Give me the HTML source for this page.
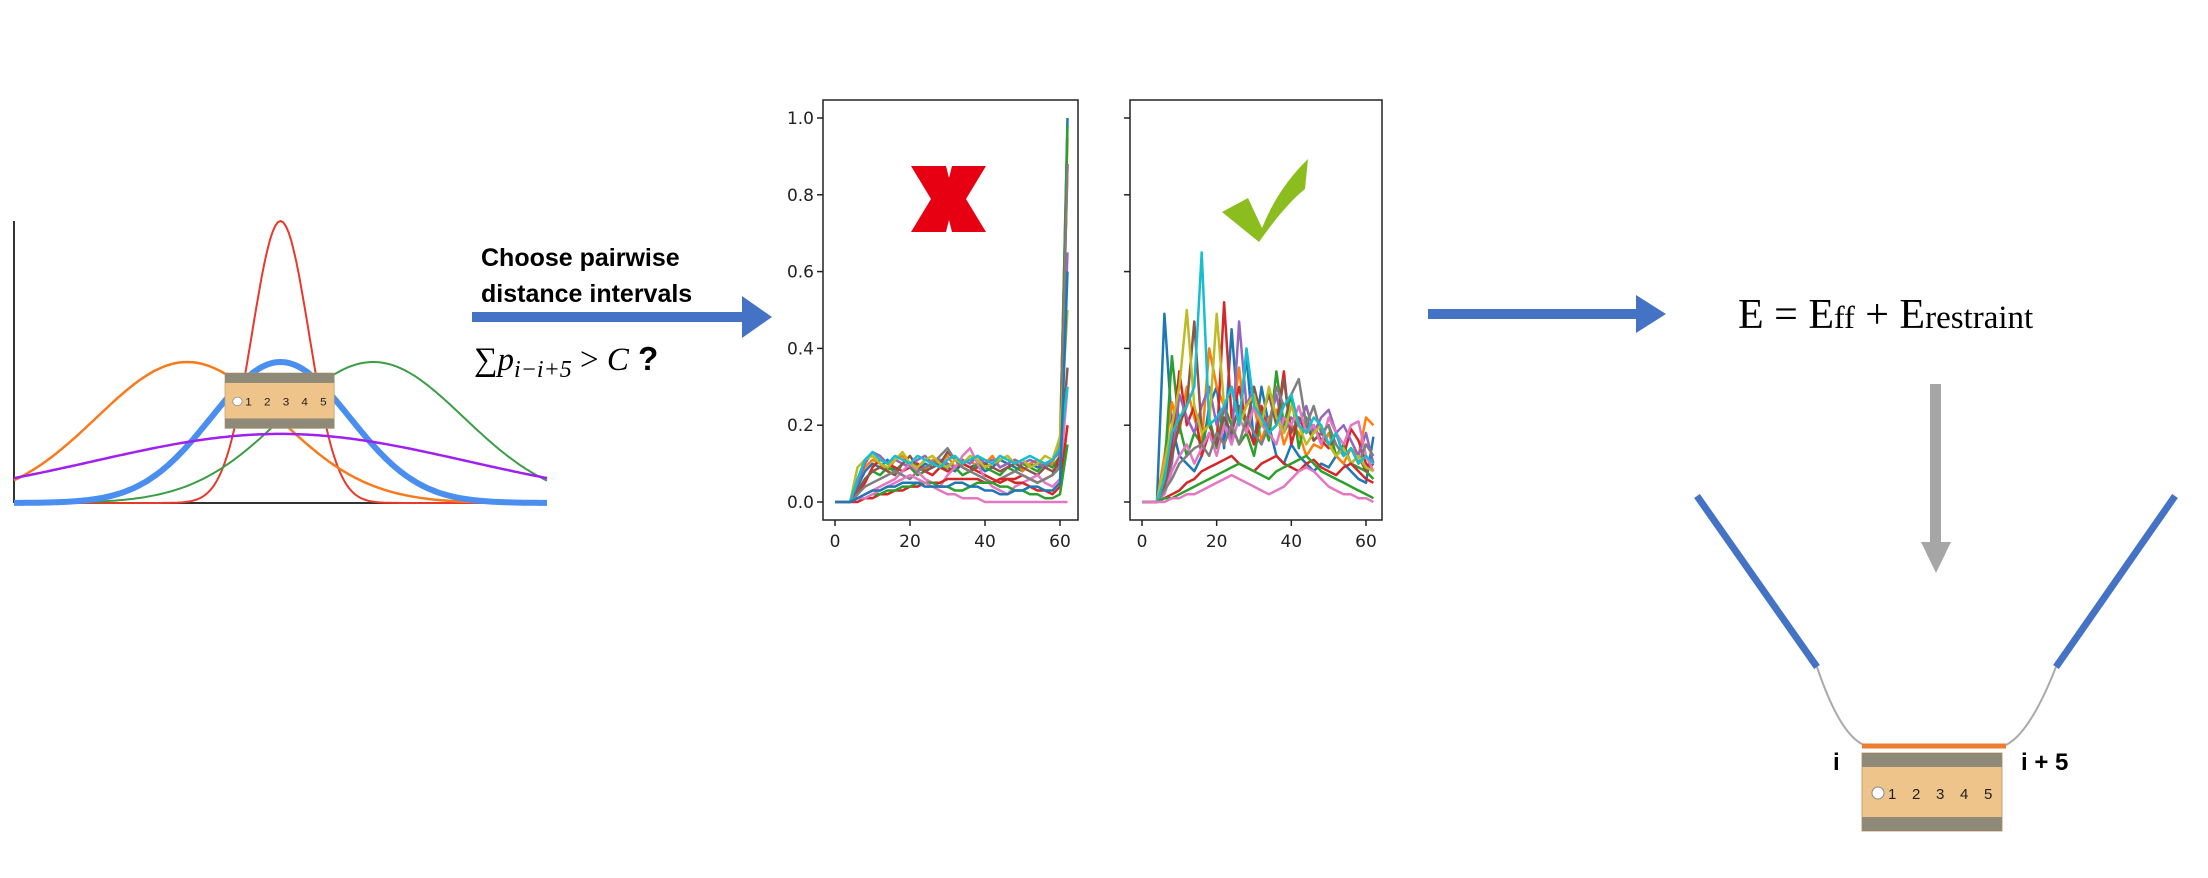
<!DOCTYPE html>
<html><head><meta charset="utf-8">
<style>
html,body{margin:0;padding:0;background:#fff;}
svg{display:block;}
</style></head>
<body>
<svg id="fig" width="2208" height="878" viewBox="0 0 2208 878" xmlns="http://www.w3.org/2000/svg" style="font-family:'Liberation Sans','DejaVu Sans',sans-serif">
  <defs>
    <g id="ruler">
      <rect x="0" y="0" width="140" height="78" fill="#eec48a" stroke="#c9a06a" stroke-width="1"/>
      <rect x="0" y="0" width="140" height="14" fill="#8f8a78"/>
      <rect x="0" y="64" width="140" height="14" fill="#8f8a78"/>
      <g fill="#222" font-size="15" style="font-family:'Liberation Sans',sans-serif">
        <text x="26" y="46">1</text><text x="50" y="46">2</text><text x="74" y="46">3</text><text x="98" y="46">4</text><text x="122" y="46">5</text>
      </g>
      <circle cx="16" cy="40" r="6" fill="#fff" stroke="#888"/>
    </g>
  </defs>

  <g>
    <line x1="14" y1="221" x2="14" y2="503" stroke="#333" stroke-width="2"/>
    <line x1="14" y1="503" x2="547" y2="503" stroke="#333" stroke-width="2"/>
    <g id="gaussCurves"></g>
    <use href="#ruler" transform="translate(225,373) scale(0.78,0.71)"/>
  </g>

  <g>
    <rect x="472" y="312" width="272" height="10" fill="#4472c4"/>
    <polygon points="742,296 772,317 742,338" fill="#4472c4"/>
  </g>
  <text x="481" y="266" font-size="25" font-weight="bold" fill="#000">Choose pairwise</text>
  <text x="481" y="302" font-size="25" font-weight="bold" fill="#000">distance intervals</text>
  <text x="474" y="370" font-size="33" fill="#000" style="font-family:'Liberation Serif',serif"><tspan>∑</tspan><tspan font-style="italic">p</tspan><tspan font-style="italic" font-size="24" dy="7">i−i+5</tspan><tspan dy="-7"> &gt; </tspan><tspan font-style="italic">C</tspan><tspan style="font-family:'Liberation Sans',sans-serif" font-weight="bold"> ?</tspan></text>

  <g id="plotLeft"></g>
  <g id="plotRight"></g>

  <polygon points="911,166 946,166 949,178 952,166 986,166 966,199 986,232 952,232 949,220 946,232 911,232 931,199" fill="#e60012"/>
  <path d="M1222,212 L1248,198 L1262,228 Q1278,188 1308,159 L1305,189 Q1285,205 1259,242 Z" fill="#8bbd1e"/>

  <g>
    <rect x="1428" y="309" width="210" height="10" fill="#4472c4"/>
    <polygon points="1636,295 1666,314 1636,333" fill="#4472c4"/>
  </g>

  <text x="1738" y="328" font-size="42" style="font-family:'Liberation Serif',serif" fill="#000">E = E<tspan font-size="32">ff</tspan> + E<tspan font-size="33">restraint</tspan></text>

  <g>
    <rect x="1930" y="384" width="11" height="160" fill="#a6a6a6"/>
    <polygon points="1921,542 1951,542 1936,573" fill="#a6a6a6"/>
  </g>

  <g>
    <line x1="1697" y1="496" x2="1817" y2="667" stroke="#4472c4" stroke-width="7"/>
    <line x1="2175" y1="496" x2="2056" y2="667" stroke="#4472c4" stroke-width="7"/>
    <path d="M1817,667 Q1840,735 1864,745" fill="none" stroke="#aaa" stroke-width="2"/>
    <path d="M2056,667 Q2030,733 2006,745" fill="none" stroke="#aaa" stroke-width="2"/>
    <line x1="1862" y1="746" x2="2006" y2="746" stroke="#ed7d31" stroke-width="5"/>
    <text x="1833" y="770" font-size="24" font-weight="bold">i</text>
    <text x="2021" y="770" font-size="24" font-weight="bold">i + 5</text>
    <use href="#ruler" transform="translate(1862,753) scale(1.0,1.0)"/>
  </g>
</svg>

<script>
const gaussNames   = ["red", "orange", "green", "blue", "purple"];
const gaussCenters = [50, 32.5, 67.4, 50, 50];
const gaussSigmas  = [5.3, 17, 17, 13, 35];
const gaussAmps    = [1.0, 0.5, 0.5, 0.5, 0.245];
const gaussColors  = ["#e8392a", "#f97a1c", "#3a9e46", "#4a8ef0", "#a020f0"];
const gaussWidths  = [2, 2.5, 2, 6, 2.5];

const xValues = [0,2,4,6,8,10,12,14,16,18,20,22,24,26,28,30,32,34,36,38,40,42,44,46,48,50,52,54,56,58,60,62];
const leftSeries = [
 [0,0,0,4,8,10,9,11,8,10,9,8,10,9,11,9,8,10,9,10,8,9,11,10,9,8,10,9,10,11,14,100],
 [0,0,0,6,9,11,10,8,11,12,9,10,8,11,10,12,9,10,11,9,10,12,9,10,11,8,10,11,9,10,16,95],
 [0,0,0,3,6,8,7,9,8,10,9,7,8,9,10,8,9,7,8,10,9,8,7,9,8,10,9,8,10,9,12,98],
 [0,0,0,2,5,9,11,10,9,8,9,10,8,7,9,8,9,10,9,8,7,6,5,6,6,7,6,5,6,7,12,88],
 [0,0,0,5,10,13,12,10,11,10,9,11,12,10,11,10,9,11,10,12,10,11,9,10,11,10,11,10,9,11,13,65],
 [0,0,0,3,6,8,9,8,7,10,12,9,8,9,10,13,11,9,8,9,10,9,8,9,10,9,8,7,9,8,10,35],
 [0,0,0,1,2,3,4,5,6,8,10,8,6,5,4,7,9,12,14,10,6,4,3,2,4,5,6,7,5,4,6,30],
 [0,0,0,2,4,5,6,7,8,7,6,8,9,10,12,14,11,9,8,7,6,5,6,7,8,7,6,5,6,7,9,88],
 [0,0,0,9,11,12,10,9,11,13,10,9,11,12,10,9,11,10,12,11,9,10,11,12,10,11,9,10,12,11,17,50],
 [0,0,0,6,11,13,11,10,12,11,10,12,11,10,9,11,12,10,11,12,11,10,12,11,10,11,12,11,10,11,14,30],
 [0,0,0,0,1,1,2,2,3,3,4,4,5,5,5,6,6,6,6,6,5,5,6,6,5,5,4,3,3,2,4,20],
 [0,0,0,1,1,2,2,3,3,4,4,5,5,5,4,4,3,3,4,5,5,5,4,4,3,3,2,2,1,1,2,15],
 [0,0,0,1,1,2,3,4,5,6,7,6,5,4,3,2,2,1,1,1,0,0,0,0,0,0,0,0,0,0,0,0],
 [0,0,0,1,2,3,3,4,4,5,5,5,4,4,4,4,5,5,4,4,3,3,2,2,3,3,4,4,3,3,5,60]
];
const rightSeries = [
 [0,0,0,49,20,12,10,8,12,25,30,14,45,20,38,15,30,20,12,10,15,12,10,8,10,9,12,10,8,6,5,17],
 [0,0,0,12,26,18,30,22,15,40,30,25,20,35,18,25,16,22,24,15,20,18,12,15,14,18,12,10,14,12,22,20],
 [0,0,0,8,38,20,12,18,15,22,14,25,20,15,18,12,22,16,34,20,28,14,22,16,18,20,12,15,10,9,8,6],
 [0,0,0,5,15,34,20,25,12,18,15,52,22,30,20,15,25,18,20,34,15,22,18,20,16,14,18,12,19,16,10,8],
 [0,0,0,3,10,28,22,18,25,30,20,25,15,47,25,30,22,20,28,18,22,20,25,18,22,24,18,20,16,12,18,10],
 [0,0,0,4,12,20,25,47,18,20,15,22,18,25,20,30,22,28,20,32,18,22,20,16,18,15,12,14,10,12,8,10],
 [0,0,0,2,8,12,15,10,14,18,12,20,15,22,18,25,20,18,15,22,20,25,18,20,15,22,18,15,20,21,12,8],
 [0,0,0,3,6,10,12,14,15,12,18,15,20,15,22,18,15,20,30,25,28,32,20,25,18,20,15,12,14,10,15,12],
 [0,0,0,10,20,30,50,25,18,20,49,25,30,20,25,28,20,30,22,18,25,20,15,18,20,15,12,14,10,12,9,8],
 [0,0,0,6,18,22,25,30,65,20,22,25,30,20,40,25,22,18,20,25,28,20,18,22,20,15,18,12,14,10,12,10],
 [0,0,0,1,2,3,5,6,8,9,10,11,12,10,9,8,10,11,12,10,9,8,10,11,9,8,7,9,10,8,6,5],
 [0,0,0,1,1,2,3,4,5,6,7,8,9,10,9,8,7,6,8,9,10,11,12,10,8,7,6,5,4,3,2,1],
 [0,0,0,0,1,1,2,2,3,4,5,6,7,6,5,4,3,2,3,4,6,8,9,8,6,4,3,2,2,1,1,0]
];
const yTickValues = [0, 0.2, 0.4, 0.6, 0.8, 1.0];
const yTickLabels = ["0.0", "0.2", "0.4", "0.6", "0.8", "1.0"];
const xTickValues = [0, 20, 40, 60];
const xTickLabels = ["0", "20", "40", "60"];

const palette = ["#1f77b4","#ff7f0e","#2ca02c","#d62728","#9467bd","#8c564b","#e377c2","#7f7f7f","#bcbd22","#17becf","#d62728","#2ca02c","#e377c2","#1f77b4"];
const NS = "http://www.w3.org/2000/svg";
function mk(tag, attrs, parent){ const e=document.createElementNS(NS,tag); for(const k in attrs) e.setAttribute(k,attrs[k]); parent.appendChild(e); return e; }

const gx = v => 14 + v/100*533;
const gy = v => 503 - v*282;
const gG = document.getElementById('gaussCurves');
gaussNames.forEach((n,i)=>{
  let d="";
  for(let s=0;s<=200;s++){
    const xv=s/2;
    const yv=gaussAmps[i]*Math.exp(-Math.pow(xv-gaussCenters[i],2)/(2*gaussSigmas[i]*gaussSigmas[i]));
    d += (s?"L":"M")+gx(xv).toFixed(1)+","+gy(yv).toFixed(1);
  }
  const p = mk('path',{d:d,fill:'none',stroke:gaussColors[i],'stroke-width':gaussWidths[i]},gG);
  
  
});

function drawPlot(gid, fx0, fx1, x0, pxPerUnit, series, showLabels, clipId){
  const g=document.getElementById(gid);
  const fy0=100, fy1=520;
  const yS = v => 502 - v*384;
  const xS = v => x0 + v*pxPerUnit;
  const cp = mk('clipPath',{id:clipId},g);
  mk('rect',{x:fx0,y:fy0,width:fx1-fx0,height:fy1-fy0},cp);
  const lines = mk('g',{'clip-path':'url(#'+clipId+')'},g);
  series.forEach((s,i)=>{
    const d = s.map((v,j)=>(j?"L":"M")+xS(xValues[j]).toFixed(1)+","+yS(v/100).toFixed(1)).join("");
    const p = mk('path',{d:d,fill:'none',stroke:palette[i%palette.length],'stroke-width':2.5,'stroke-linejoin':'round'},lines);
    
    
  });
  const fr = mk('rect',{x:fx0,y:fy0,width:fx1-fx0,height:fy1-fy0,fill:'none',stroke:'#222','stroke-width':1.5},g);
  
  
  yTickValues.forEach((v,i)=>{
    mk('line',{x1:fx0-6,y1:yS(v),x2:fx0,y2:yS(v),stroke:'#222','stroke-width':1.5},g);
    if(showLabels){
      const t=mk('text',{x:fx0-9,y:yS(v)+6,'text-anchor':'end','font-size':17,fill:'#222',style:"font-family:'DejaVu Sans',sans-serif"},g);
      t.textContent=yTickLabels[i];
      
      
    }
  });
  xTickValues.forEach((v,i)=>{
    mk('line',{x1:xS(v),y1:fy1,x2:xS(v),y2:fy1+6,stroke:'#222','stroke-width':1.5},g);
    const t=mk('text',{x:xS(v),y:fy1+27,'text-anchor':'middle','font-size':17,fill:'#222',style:"font-family:'DejaVu Sans',sans-serif"},g);
    t.textContent=xTickLabels[i];
    
    
  });
}
drawPlot('plotLeft', 823, 1078, 835, 3.75, leftSeries, true, 'clipL');
drawPlot('plotRight', 1130, 1382, 1142, 3.733, rightSeries, false, 'clipR');
</script>
</body></html>
